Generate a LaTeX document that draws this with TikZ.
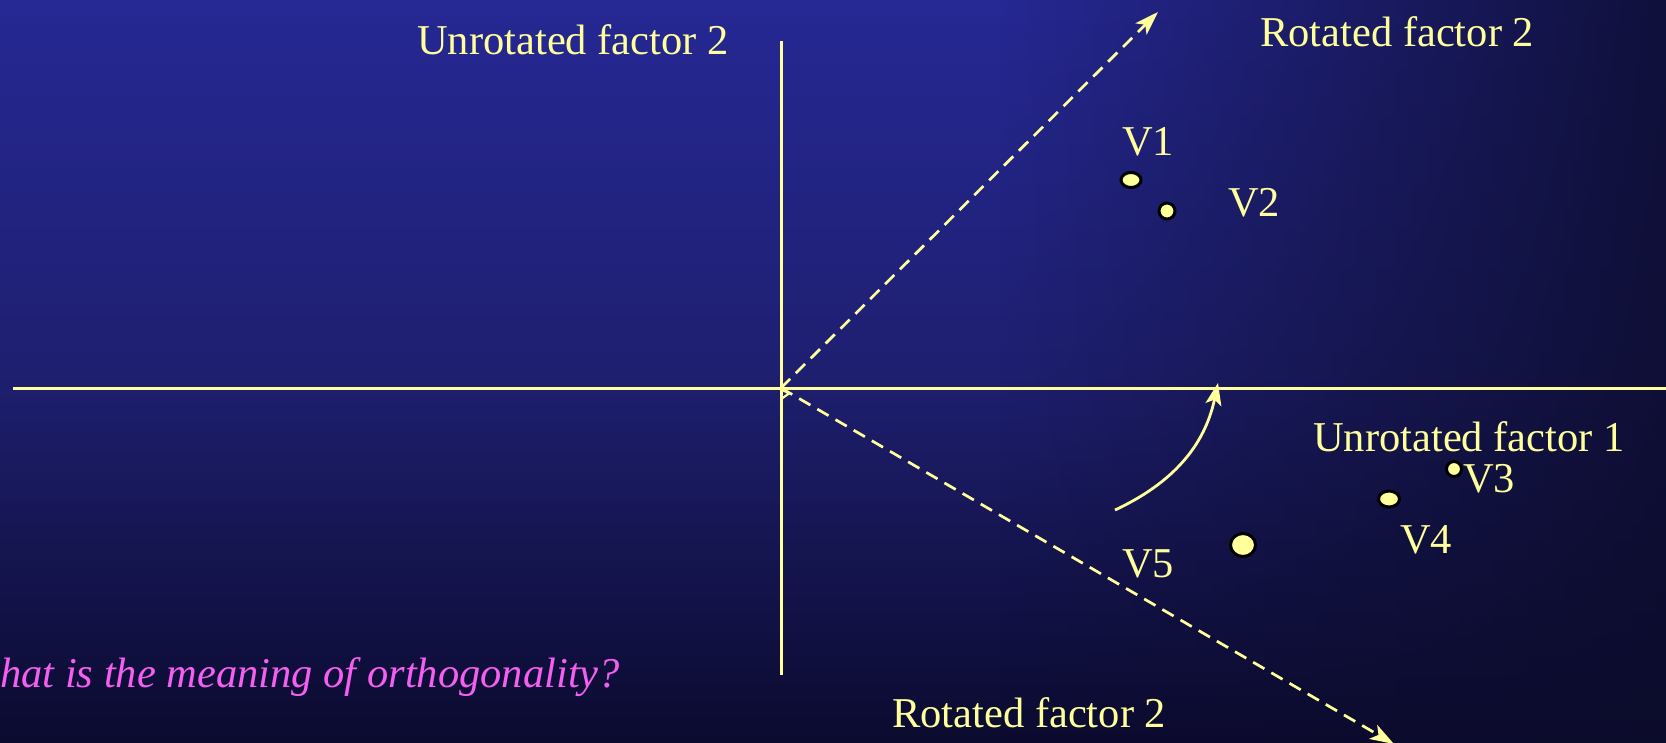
\documentclass[tikz,border=0pt]{standalone}
\usepackage{fontspec}
\setmainfont{Liberation Serif}
\usetikzlibrary{arrows.meta,fadings,shapes.geometric}
\definecolor{ylw}{RGB}{255,255,155}
\definecolor{mag}{RGB}{245,95,240}
\definecolor{bgtop}{RGB}{38,40,148}
\definecolor{bgmid}{RGB}{30,31,112}
\definecolor{bgbot}{RGB}{11,10,46}
\definecolor{bgdark}{RGB}{12,12,44}
\tikzfading[name=rfade, left color=transparent!100, right color=transparent!15]
\begin{document}
\begin{tikzpicture}[x=1pt,y=1pt,
  lbl/.style={text=ylw, inner sep=0pt, font=\fontsize{42.5}{50}\selectfont},
  axisline/.style={draw=ylw, line width=3pt},
  rotline/.style={draw=ylw, line width=2.7pt, dash pattern=on 13pt off 8pt,
     -{Stealth[length=24pt,width=16pt,inset=6pt]}},
  pt/.style={draw=black, fill=ylw, line width=3pt, inner sep=0pt}]
\useasboundingbox (0,0) rectangle (1666,-743);
\clip (0,0) rectangle (1666,-743);
\shade[top color=bgtop, bottom color=bgbot, middle color=bgmid] (-2,2) rectangle (1668,-745);
\fill[bgdark, path fading=rfade] (1000,2) rectangle (1668,-745);

% coordinates
\coordinate (O) at (781,-388);
\coordinate (ytop) at (781,-41);
\coordinate (ybot) at (781,-675);
\coordinate (xleft) at (13,-388);
\coordinate (xright) at (1670,-388);
\coordinate (r2tip) at (1158,-12);
\coordinate (r1tip) at (1394,-744);
\coordinate (cstart) at (1115,-510);
\coordinate (cend) at (1218,-383);
\coordinate (ra1) at (780.7,-389.3);
\coordinate (ra2) at (789.3,-393.3);
\coordinate (ra3) at (780.7,-399.3);

% axes
\draw[axisline] (ytop) -- (ybot);
\draw[axisline] (xleft) -- (xright);

% rotated axes
\draw[rotline] (O) -- (r2tip);
\draw[rotline] (O) -- (r1tip);
\draw[draw=ylw, line width=2.2pt] (ra1) -- (ra2) -- (ra3);

% rotation arrow
\draw[draw=ylw, line width=2.8pt, -{Stealth[length=22pt,width=16pt,inset=5pt]}]
  (cstart) to[out=25,in=-102] (cend);

% points
\node[pt, ellipse, minimum width=20pt, minimum height=15pt] (p1) at (1131,-180) {};
\node[pt, circle, minimum size=16pt] (p2) at (1167,-211) {};
\node[pt, circle, minimum size=15pt] (p3) at (1454,-469) {};
\node[pt, ellipse, minimum width=21pt, minimum height=16pt] (p4) at (1389,-499) {};
\node[pt, ellipse, minimum width=25pt, minimum height=23pt] (p5) at (1243,-545) {};

% labels
\node[lbl, anchor=base west] (u2) at (417,-55) {Unrotated factor 2};
\node[lbl, anchor=base west] (r2a) at (1260,-47) {Rotated factor 2};
\node[lbl, anchor=base west] (u1) at (1313,-451) {Unrotated factor 1};
\node[lbl, anchor=base west] (r2b) at (892,-727) {Rotated factor 2};
\node[lbl, anchor=base west] (v1) at (1122,-156) {V1};
\node[lbl, anchor=base west] (v2) at (1228,-217) {V2};
\node[lbl, anchor=base west] (v3) at (1463,-492) {V3};
\node[lbl, anchor=base west] (v4) at (1400,-553) {V4};
\node[lbl, anchor=base west] (v5) at (1122,-577) {V5};
\node[lbl, text=mag, anchor=base west, font=\fontsize{42.5}{50}\selectfont\itshape] (q) at (0,-687) {hat is the meaning of orthogonality?};
\end{tikzpicture}
\end{document}
